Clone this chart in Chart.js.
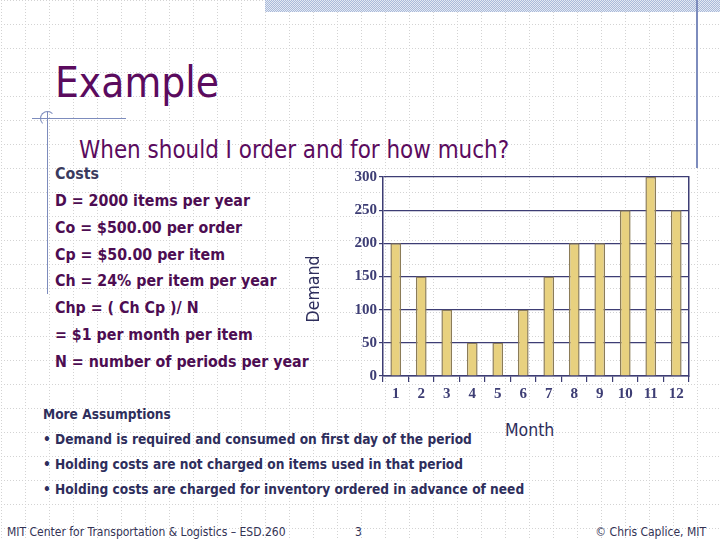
<!DOCTYPE html>
<html>
<head>
<meta charset="utf-8">
<script src="https://cdn.jsdelivr.net/npm/chart.js@4/dist/chart.umd.min.js"></script>
<style>
  html, body { margin:0; padding:0; }
  body {
    width:720px; height:540px; position:relative; overflow:hidden; background:#fff;
    background-image: url("data:image/svg+xml;utf8,<svg xmlns='http://www.w3.org/2000/svg' width='24' height='24'><line x1='0.5' y1='0' x2='0.5' y2='24' stroke='%23d3d3d3' stroke-width='1' stroke-dasharray='1,2'/><line x1='0' y1='0.5' x2='24' y2='0.5' stroke='%23d3d3d3' stroke-width='1' stroke-dasharray='1,2'/></svg>");
    background-position: 1px 0;
  }
  .abs { position:absolute; white-space:nowrap; }
  #band { left:265px; top:0; width:455px; height:12px;
    background-image: url("data:image/svg+xml;utf8,<svg xmlns='http://www.w3.org/2000/svg' width='2' height='2'><rect width='2' height='2' fill='%23e4e9f3'/><rect width='1' height='1' fill='%23a9bada'/><rect x='1' y='1' width='1' height='1' fill='%23a9bada'/></svg>"); }
  .line { position:absolute; background:#7d8cbd; }
  #title { left:55px; top:58px; font-family:"DejaVu Sans Condensed","DejaVu Sans"; font-size:42px; color:#5b0b5e; }
  #sub { left:79px; top:136px; font-family:"DejaVu Sans Condensed","DejaVu Sans"; font-size:23.9px; color:#5b0b5e; }
  .cost { left:55px; font-family:"DejaVu Sans Condensed","DejaVu Sans"; font-weight:bold; font-size:15.8px; color:#4d0d52; }
  .assume { left:43px; font-family:"DejaVu Sans Condensed","DejaVu Sans"; font-weight:bold; font-size:13.6px; color:#2e2e5c; }
  .foot { font-family:"DejaVu Sans Condensed","DejaVu Sans"; font-size:12px; color:#333355; top:525px; }
  #month { left:505px; top:420px; font-family:"DejaVu Sans Condensed","DejaVu Sans"; font-size:17.5px; color:#2e2e5c; }
  #wrap { position:absolute; left:300px; top:165px; width:400px; height:241px; }
</style>
</head>
<body>
<div class="abs" id="band"></div>
<div class="line" style="left:696px; top:0; width:2px; height:168px;"></div>
<div class="line" style="left:47px; top:112px; width:1px; height:182px;"></div>
<div class="line" style="left:32px; top:118px; width:94px; height:1px;"></div>
<div class="abs" style="left:40px; top:111px; width:13px; height:13px; border:1px solid #7d8cbd; border-radius:50%; border-right-color:transparent; border-bottom-color:transparent;"></div>

<div class="abs" id="title">Example</div>
<div class="abs" id="sub">When should I order and for how much?</div>

<div class="abs cost" style="top:164px; color:#3a3a5e;">Costs</div>
<div class="abs cost" style="top:191px;">D = 2000 items per year</div>
<div class="abs cost" style="top:218px;">Co = $500.00 per order</div>
<div class="abs cost" style="top:245px;">Cp = $50.00 per item</div>
<div class="abs cost" style="top:271px;">Ch = 24% per item per year</div>
<div class="abs cost" style="top:298px;">Chp = ( Ch Cp )/ N</div>
<div class="abs cost" style="top:325px;">= $1 per month per item</div>
<div class="abs cost" style="top:352px;">N = number of periods per year</div>

<div class="abs assume" style="top:406px;">More Assumptions</div>
<div class="abs assume" style="top:431px;">• Demand is required and consumed on first day of the period</div>
<div class="abs assume" style="top:456px;">• Holding costs are not charged on items used in that period</div>
<div class="abs assume" style="top:481px;">• Holding costs are charged for inventory ordered in advance of need</div>

<div class="abs" id="month">Month</div>

<div class="abs foot" style="left:7px;">MIT Center for Transportation &amp; Logistics – ESD.260</div>
<div class="abs foot" style="left:355px;">3</div>
<div class="abs foot" style="right:14px;">© Chris Caplice, MIT</div>

<div id="wrap"><canvas id="c"></canvas></div>

<script>
const months = ['1','2','3','4','5','6','7','8','9','10','11','12'];
const demand = [200,150,100,50,50,100,150,200,200,250,300,250];
const yTicks = [0,50,100,150,200,250,300];

const navy = '#3d3d74';
new Chart(document.getElementById('c'), {
  type: 'bar',
  data: {
    labels: months,
    datasets: [{
      label: 'Demand',
      data: demand,
      backgroundColor: '#e8d17f',
      borderColor: '#8b7c58',
      borderWidth: 1.5,
      barPercentage: 0.42,
      categoryPercentage: 1.0
    }]
  },
  options: {
    responsive: true,
    maintainAspectRatio: false,
    animation: false,
    layout: { padding: { top: 12, right: 11, left: 0, bottom: 0 } },
    plugins: { legend: { display: false }, tooltip: { enabled: false } },
    scales: {
      x: {
        grid: { drawOnChartArea: false, drawTicks: true, tickLength: 6, color: navy, lineWidth: 1.2, offset: true },
        border: { display: true, color: navy, width: 1.5 },
        ticks: { color: navy, font: { family: 'Liberation Serif', weight: 'bold', size: 15 }, padding: 3 },
        afterFit: s => { s.height = 30; }
      },
      y: {
        min: 0, max: 300,
        afterBuildTicks: s => { s.ticks = yTicks.map(v => ({ value: v })); },
        grid: { color: navy, lineWidth: 1.2, tickLength: 4 },
        border: { display: true, color: navy, width: 1.5 },
        ticks: { color: navy, font: { family: 'Liberation Serif', weight: 'bold', size: 15 }, padding: 2 },
        title: { display: true, text: 'Demand     ', color: '#2e2e5c', font: { family: 'DejaVu Sans Condensed', size: 17.5 }, padding: { top: 4, bottom: 0 } },
        afterFit: s => { s.width = 83; }
      },
      yR: {
        position: 'right', min: 0, max: 300,
        grid: { display: false },
        ticks: { display: false },
        border: { display: true, color: navy, width: 1.5 },
        afterFit: s => { s.width = 0; }
      }
    }
  }
});
</script>
</body>
</html>
